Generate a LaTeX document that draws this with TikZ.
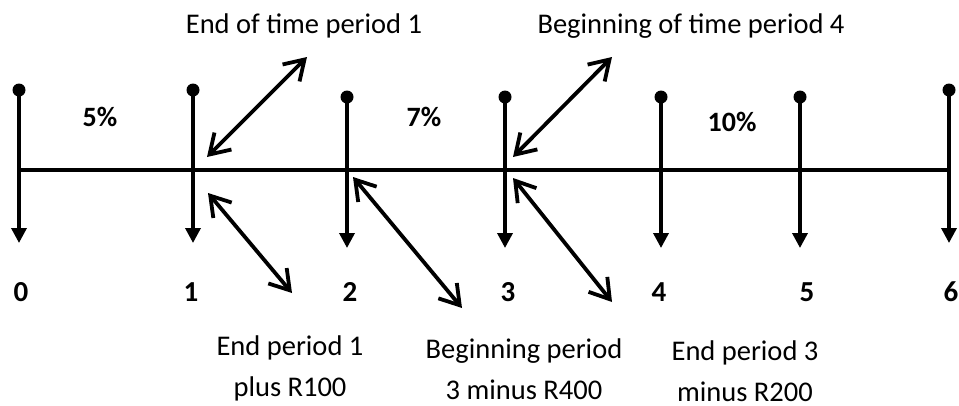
\documentclass[tikz,border=0pt]{standalone}
\usepackage{fontspec}
\setmainfont{Carlito}
\usepackage{tikz}
\usetikzlibrary{arrows.meta, positioning, calc}
\tikzset{
  % Line styles
  timeline/.style={line width=4pt},
  tickline/.style={-{Triangle[length=15pt,width=15pt]}, line width=3.5pt},
  pointer/.style={{Straight Barb[length=19pt,width=24pt,line width=3.8pt]}-{Straight Barb[length=19pt,width=24pt,line width=3.8pt]}, line width=3.8pt},
  % Node styles
  tickdot/.style={circle, fill=black, inner sep=0pt, minimum size=13pt},
  periodlabel/.style={inner sep=0pt, font=\bfseries\fontsize{29}{34}\selectfont},
  ratelabel/.style={inner sep=0pt, font=\bfseries\fontsize{28}{34}\selectfont},
  notelabel/.style={inner sep=0pt, anchor=base, align=center, font=\fontsize{28.5}{41}\selectfont}
}
\begin{document}
\begin{tikzpicture}[x=1pt, y=-1pt]
  \useasboundingbox (0,0) rectangle (959,405);

  % Time line
  \coordinate (axisL) at (19,170);
  \coordinate (axisR) at (949,170);
  \draw[timeline] (axisL) -- (axisR);

  % Ticks with dots on top and arrows down
  \node[tickdot] (d0) at (19,90) {};
  \coordinate (a0) at (19,243);
  \draw[tickline] (d0.center) -- (a0);

  \node[tickdot] (d1) at (193,90) {};
  \coordinate (a1) at (193,243);
  \draw[tickline] (d1.center) -- (a1);

  \node[tickdot] (d2) at (347,97) {};
  \coordinate (a2) at (347,248);
  \draw[tickline] (d2.center) -- (a2);

  \node[tickdot] (d3) at (505,97) {};
  \coordinate (a3) at (505,248);
  \draw[tickline] (d3.center) -- (a3);

  \node[tickdot] (d4) at (661,97) {};
  \coordinate (a4) at (661,248);
  \draw[tickline] (d4.center) -- (a4);

  \node[tickdot] (d5) at (800,97) {};
  \coordinate (a5) at (800,248);
  \draw[tickline] (d5.center) -- (a5);

  \node[tickdot] (d6) at (949,90) {};
  \coordinate (a6) at (949,243);
  \draw[tickline] (d6.center) -- (a6);

  % Period numbers
  \node[periodlabel] (n0) at (21,292) {0};
  \node[periodlabel] (n1) at (191,292) {1};
  \node[periodlabel] (n2) at (350,292) {2};
  \node[periodlabel] (n3) at (508,292) {3};
  \node[periodlabel] (n4) at (659,292) {4};
  \node[periodlabel] (n5) at (807,292) {5};
  \node[periodlabel] (n6) at (951,292) {6};

  % Interest rates
  \node[ratelabel] (r5) at (100,117) {5\%};
  \node[ratelabel] (r7) at (424,117) {7\%};
  \node[ratelabel] (r10) at (732,122) {10\%};

  % Notes above the line
  \node[notelabel] (endone) at (304,33) {End of time period 1};
  \node[notelabel] (begfour) at (691,33) {Beginning of time period 4};

  % Notes below the line (base is the last line)
  \node[notelabel] (endoneplus) at (290,396) {End period 1\\plus R100};
  \node[notelabel] (begthree) at (524,399) {Beginning period\\3 minus R400};
  \node[notelabel] (endthree) at (745,401) {End period 3\\minus R200};

  % Pointers
  \coordinate (p1a) at (207,157);
  \coordinate (p1b) at (307,57);
  \draw[pointer] (p1a) -- (p1b);

  \coordinate (p4a) at (513,157);
  \coordinate (p4b) at (612,57);
  \draw[pointer] (p4a) -- (p4b);

  \coordinate (q1a) at (208,193);
  \coordinate (q1b) at (292,293);
  \draw[pointer] (q1a) -- (q1b);

  \coordinate (q2a) at (353,177);
  \coordinate (q2b) at (462,308);
  \draw[pointer] (q2a) -- (q2b);

  \coordinate (q3a) at (513,178);
  \coordinate (q3b) at (612,302);
  \draw[pointer] (q3a) -- (q3b);
\end{tikzpicture}
\end{document}
